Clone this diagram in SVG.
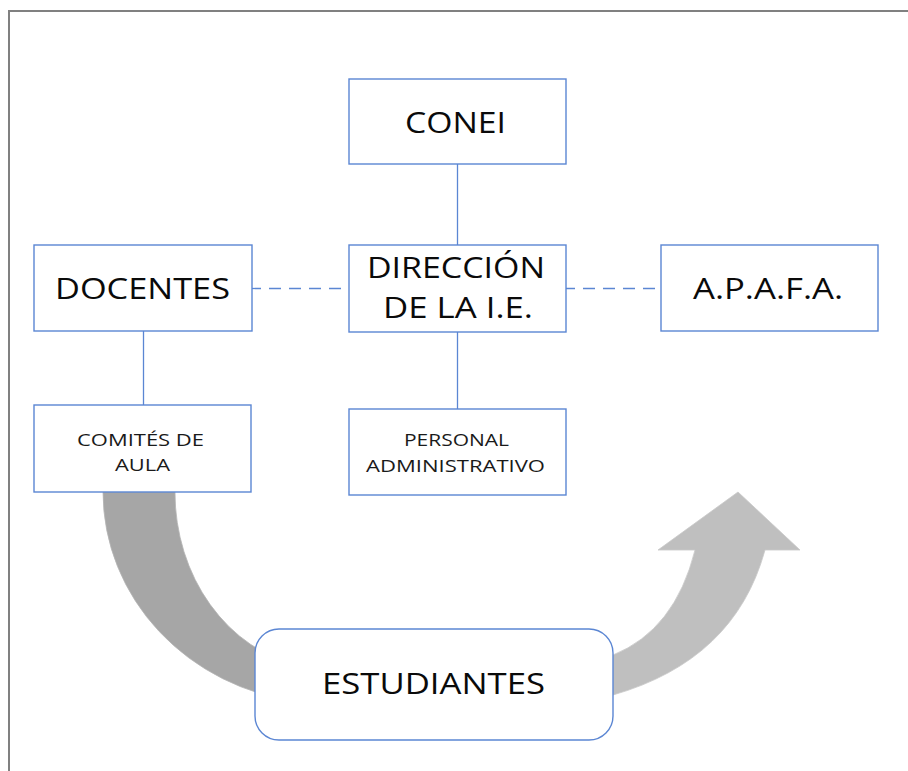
<svg xmlns="http://www.w3.org/2000/svg" width="908" height="771" viewBox="0 0 908 771">
<style>
.box{fill:#fff;stroke:#5b86d3;stroke-width:1.4}
.ln{stroke:#5b86d3;stroke-width:1.3;fill:none}
.dash{stroke:#5b86d3;stroke-width:1.3;fill:none;stroke-dasharray:12 8}
.big{font-family:"Open Sans","Noto Sans",sans-serif;font-size:30px;fill:#0a0a0a}
.sm{font-family:"Open Sans","Noto Sans",sans-serif;font-size:16px;fill:#1a1a1a}
</style>
<rect width="908" height="771" fill="#fff"/>
<path d="M9,771 L9,11 L908,11" fill="none" stroke="#808080" stroke-width="2"/>
<g id="arrows">
<path d="M103,492 A227,212 0 0 0 300,702 L300,666 A155,177 0 0 1 175,492 Z" fill="#a6a6a6" stroke="#b5b5b5" stroke-width="0.8"/>
<path d="M590,662 L613,655 Q675,630 695,550 L658,550 L738,492 L800,550 L765,550 Q735,660 613,695 L590,702 Z" fill="#bfbfbf" stroke="#c9c9c9" stroke-width="0.8"/>
</g>
<g id="connectors">
<line class="ln" x1="457.5" y1="164" x2="457.5" y2="245"/>
<line class="ln" x1="457.5" y1="332" x2="457.5" y2="409"/>
<line class="ln" x1="143.5" y1="331" x2="143.5" y2="405"/>
<line class="dash" x1="252" y1="288.5" x2="349" y2="288.5" stroke-dashoffset="3"/>
<line class="dash" x1="566" y1="288.5" x2="661" y2="288.5" stroke-dashoffset="3"/>
</g>
<g id="conei">
<rect class="box" x="349" y="79" width="217" height="85"/>
<text class="big" x="405" y="133" textLength="101" lengthAdjust="spacingAndGlyphs">CONEI</text>
</g>
<g id="direccion">
<rect class="box" x="349" y="245" width="217" height="87"/>
<text class="big" x="367" y="278" textLength="178" lengthAdjust="spacingAndGlyphs">DIRECCIÓN</text>
<text class="big" x="383" y="318" textLength="150" lengthAdjust="spacingAndGlyphs">DE LA I.E.</text>
</g>
<g id="docentes">
<rect class="box" x="34" y="245" width="218" height="86"/>
<text class="big" x="55" y="299" textLength="175" lengthAdjust="spacingAndGlyphs">DOCENTES</text>
</g>
<g id="apafa">
<rect class="box" x="661" y="245" width="217" height="86"/>
<text class="big" x="693" y="299" textLength="150" lengthAdjust="spacingAndGlyphs">A.P.A.F.A.</text>
</g>
<g id="comites">
<rect class="box" x="34" y="405" width="217" height="87"/>
<text class="sm" x="77" y="446" textLength="127" lengthAdjust="spacingAndGlyphs">COMITÉS DE</text>
<text class="sm" x="115" y="471" textLength="55" lengthAdjust="spacingAndGlyphs">AULA</text>
</g>
<g id="personal">
<rect class="box" x="349" y="409" width="217" height="86"/>
<text class="sm" x="404" y="446" textLength="105" lengthAdjust="spacingAndGlyphs">PERSONAL</text>
<text class="sm" x="366" y="472" textLength="179" lengthAdjust="spacingAndGlyphs">ADMINISTRATIVO</text>
</g>
<g id="estudiantes">
<rect class="box" x="255" y="629" width="358" height="111" rx="24" ry="24"/>
<text class="big" x="322" y="694" textLength="223" lengthAdjust="spacingAndGlyphs">ESTUDIANTES</text>
</g>
</svg>
